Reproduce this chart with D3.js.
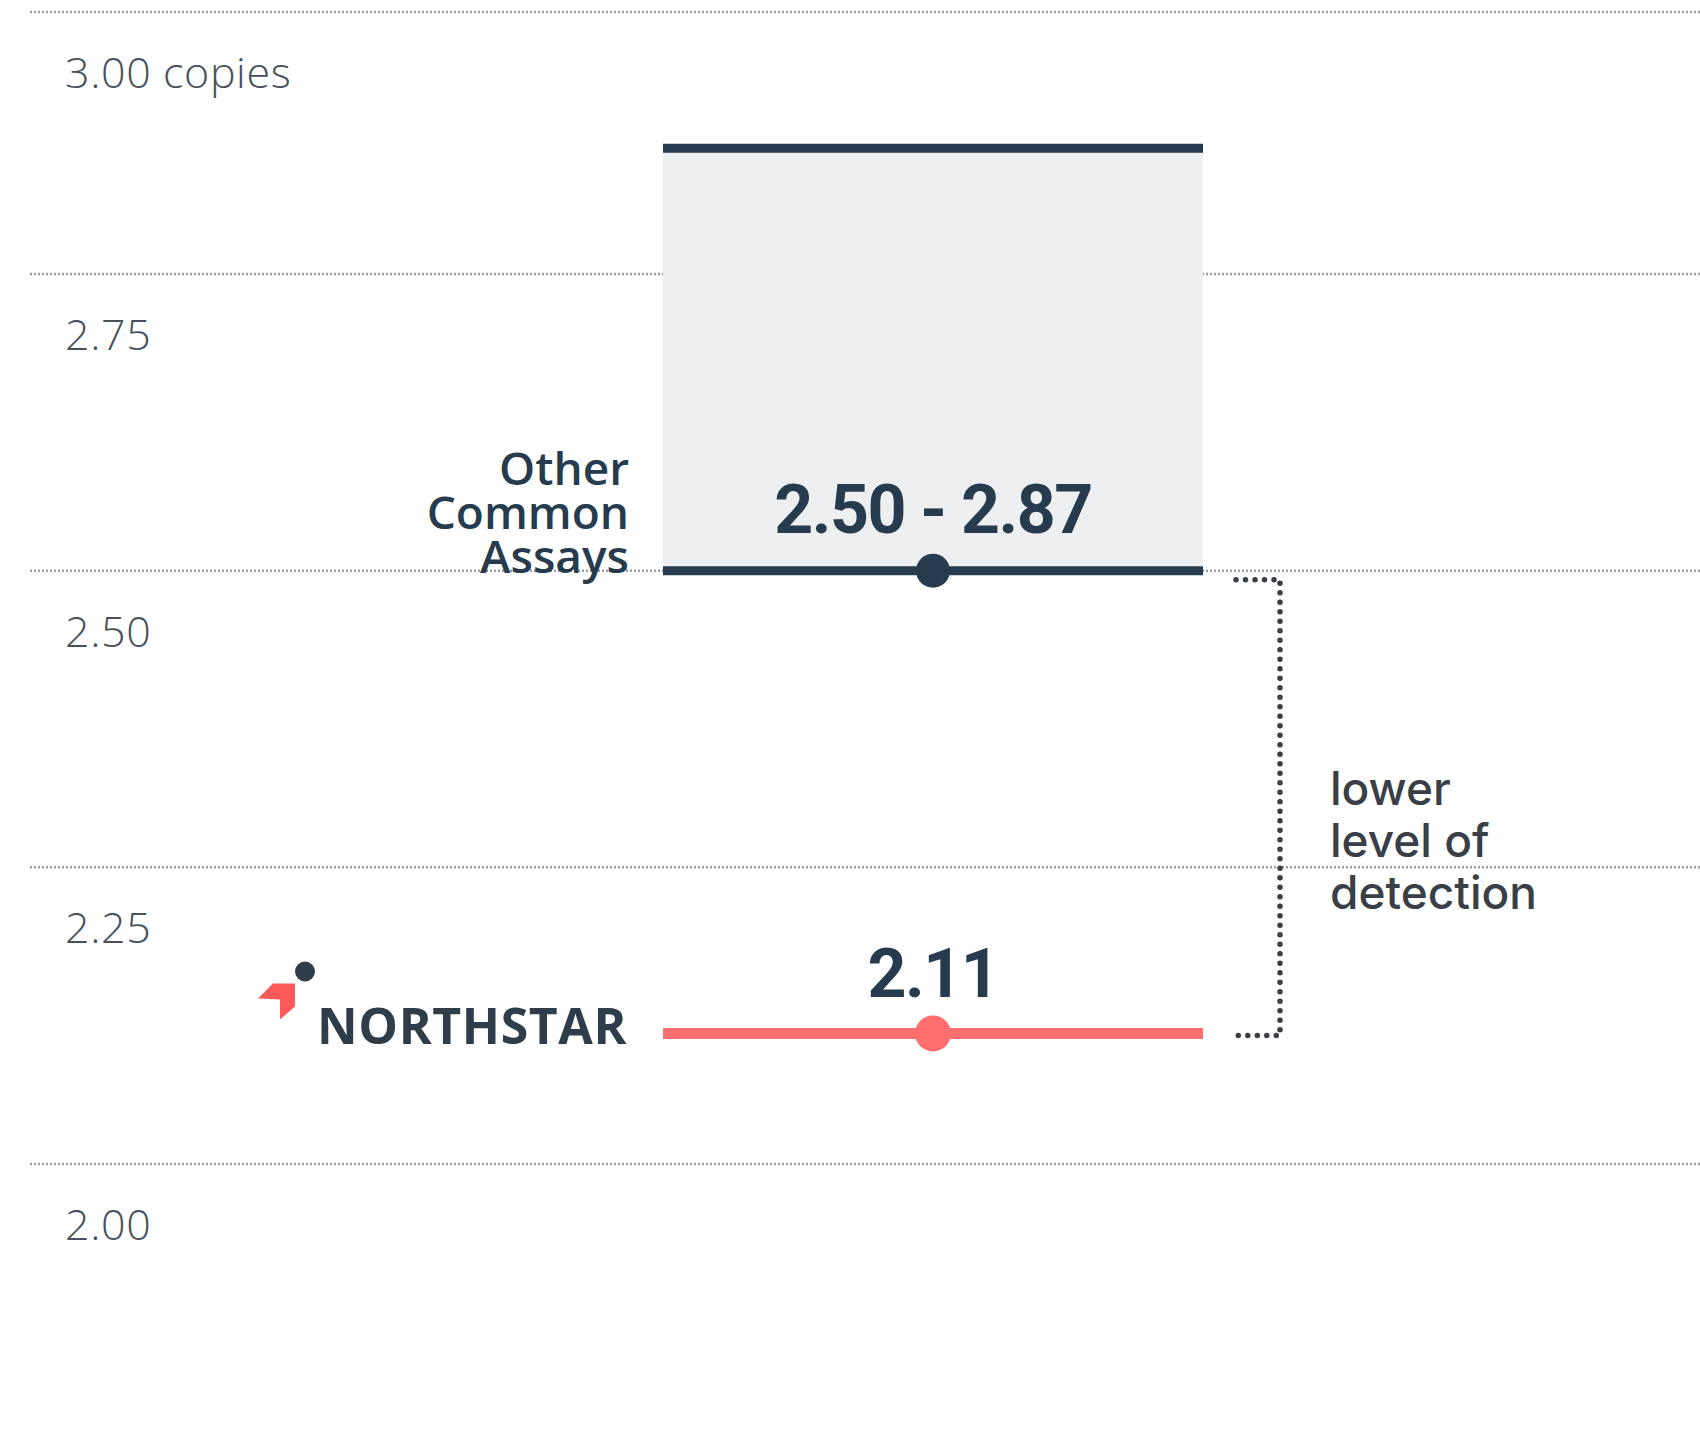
<!DOCTYPE html>
<html>
<head>
<meta charset="utf-8">
<script src="https://cdn.jsdelivr.net/npm/d3@7"></script>
<style>
  body { margin: 0; background: #fff; }
  svg { display: block; }
</style>
</head>
<body>
<svg></svg>
<script>
// axis ticks and their labels
const yTicks = [2.00, 2.25, 2.50, 2.75, 3.00];
const yTickLabels = ["2.00", "2.25", "2.50", "2.75", "3.00 copies"];

// other assays: range of lower detection limit
const otherName = ["Other", "Common", "Assays"];
const otherRange = [2.50, 2.87];

// northstar
const northstarName = "NORTHSTAR";
const northstarValue = 2.11;

const bracketLabel = ["lower", "level of", "detection"];

var svgWidth = 1700,
    svgHeight = 1432;

var svg = d3.select("svg")
    .attr("width", svgWidth)
    .attr("height", svgHeight);

var navy = "#263b4d",
    coral = "#ff6f6f";

// top row of the grid is squeezed in the original, so the scale is polylinear
var y = d3.scaleLinear()
    .domain([2.00, 2.75, 3.00])
    .range([1164, 274, 12]);

var markX = d3.scaleLinear()
    .domain([0, 1])
    .range([663, 1203]);

// gridlines
svg.append("g")
    .selectAll("line")
    .data(yTicks)
    .join("line")
    .attr("x1", 30)
    .attr("x2", svgWidth)
    .attr("y1", d => y(d))
    .attr("y2", d => y(d))
    .attr("stroke", "#9c9c9c")
    .attr("stroke-width", 2.5)
    .attr("stroke-dasharray", "2,2");

// tick labels
svg.append("g")
    .selectAll("text")
    .data(yTicks)
    .join("text")
    .attr("x", 65)
    .attr("y", d => y(d) + 76)
    .attr("font-family", "Open Sans")
    .attr("font-weight", 300)
    .attr("font-size", 43)
    .attr("letter-spacing", 0.6)
    .attr("fill", "#48515b")
    .text((d, i) => yTickLabels[i]);

// range box
var lo = otherRange[0], hi = otherRange[1];
svg.append("rect")
    .attr("x", markX(0))
    .attr("width", markX(1) - markX(0))
    .attr("y", y(hi))
    .attr("height", y(lo) - y(hi))
    .attr("fill", "#eeeff1");

svg.append("g")
    .selectAll("line")
    .data(otherRange)
    .join("line")
    .attr("x1", markX(0))
    .attr("x2", markX(1))
    .attr("y1", d => y(d))
    .attr("y2", d => y(d))
    .attr("stroke", navy)
    .attr("stroke-width", 9);

svg.append("circle")
    .attr("cx", markX(0.5))
    .attr("cy", y(lo))
    .attr("r", 17)
    .attr("fill", navy);

svg.append("text")
    .attr("x", markX(0.5))
    .attr("y", y(lo) - 38)
    .attr("text-anchor", "middle")
    .attr("font-family", "Roboto")
    .attr("font-weight", 700)
    .attr("font-size", 68)
    .attr("letter-spacing", -1.5)
    .attr("fill", navy)
    .text(lo.toFixed(2) + " - " + hi.toFixed(2));

svg.append("g")
    .selectAll("text")
    .data(otherName)
    .join("text")
    .attr("x", 629)
    .attr("y", (d, i) => y(lo) - 86 + i * 44)
    .attr("text-anchor", "end")
    .attr("font-family", "Open Sans")
    .attr("font-weight", 600)
    .attr("font-size", 46)
    .attr("fill", navy)
    .text(d => d);

// northstar line
var ny = y(northstarValue);
svg.append("line")
    .attr("x1", markX(0))
    .attr("x2", markX(1))
    .attr("y1", ny)
    .attr("y2", ny)
    .attr("stroke", coral)
    .attr("stroke-width", 11);

svg.append("circle")
    .attr("cx", markX(0.5))
    .attr("cy", ny)
    .attr("r", 18)
    .attr("fill", coral);

svg.append("text")
    .attr("x", markX(0.5))
    .attr("y", ny - 36)
    .attr("text-anchor", "middle")
    .attr("font-family", "Roboto")
    .attr("font-weight", 700)
    .attr("font-size", 68)
    .attr("letter-spacing", -1.5)
    .attr("fill", navy)
    .text(northstarValue.toFixed(2));

// logo
var logo = svg.append("g")
    .attr("transform", "translate(0," + ny + ")");

logo.append("path")
    .attr("d", "M258,-35 L273,-50 L295,-50 L295,-27 L280,-14 L280,-34 Z")
    .attr("fill", "#ff5a5a");

logo.append("circle")
    .attr("cx", 305)
    .attr("cy", -62)
    .attr("r", 10)
    .attr("fill", "#2f3d4a");

logo.append("text")
    .attr("x", 317)
    .attr("y", 11)
    .attr("font-family", "Open Sans")
    .attr("font-weight", 700)
    .attr("font-size", 50)
    .attr("letter-spacing", 0.6)
    .attr("fill", "#2f3d4a")
    .text(northstarName);

// bracket between the two levels
var bx0 = 1236, bx1 = 1280;
var by0 = y(lo) + 9, by1 = ny + 2;
svg.append("path")
    .attr("d", d3.line()([[bx0, by0], [bx1, by0], [bx1, by1], [bx0, by1]]))
    .attr("fill", "none")
    .attr("stroke", "#3a3f47")
    .attr("stroke-width", 5.5)
    .attr("stroke-linecap", "round")
    .attr("stroke-dasharray", "0,9.5");

svg.append("g")
    .selectAll("text")
    .data(bracketLabel)
    .join("text")
    .attr("x", 1330)
    .attr("y", (d, i) => y(lo) + 234 + i * 52)
    .attr("font-family", "Inter")
    .attr("font-weight", 500)
    .attr("font-size", 46)
    .attr("fill", "#3a3f47")
    .text(d => d);
</script>
</body>
</html>
